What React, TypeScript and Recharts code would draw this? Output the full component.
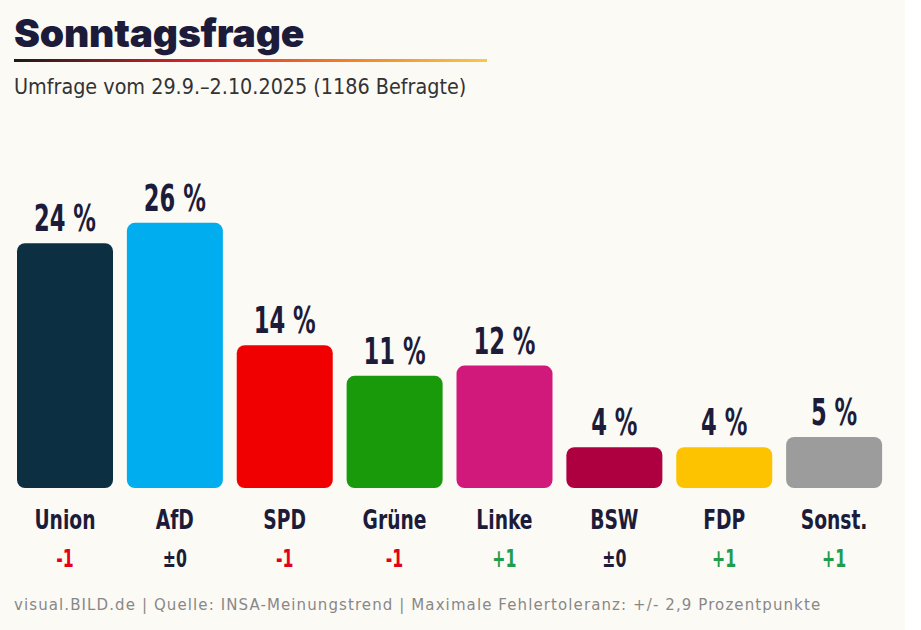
import React from "react";
import { BarChart, Bar, XAxis, YAxis, Cell, LabelList } from "recharts";

const parties = ["Union", "AfD", "SPD", "Grüne", "Linke", "BSW", "FDP", "Sonst."];
const shares = [24, 26, 14, 11, 12, 4, 4, 5];
const changes = ["-1", "±0", "-1", "-1", "+1", "±0", "+1", "+1"];
const partyColors = ["#0c2f41", "#00adef", "#f00000", "#199a0a", "#d0197a", "#ae0041", "#fdc300", "#9c9c9c"];

const data = parties.map((name, i) => ({ name, share: shares[i], change: changes[i] }));

const NARROW = "'DejaVu Sans Condensed', 'DejaVu Sans', sans-serif";
const INK = "#1c1c3a";

const changeColor = (c: string) => (c.startsWith("+") ? "#1e9d4a" : c.startsWith("-") ? "#e2001a" : INK);

// condensed bold text, squeezed horizontally to look like the BILD font
const Squeezed = ({ x, y, sx, size, fill, children }: any) => (
  <text
    transform={`translate(${x},${y}) scale(${sx},1)`}
    textAnchor="middle"
    fontFamily={NARROW}
    fontWeight={700}
    fontSize={size}
    fill={fill}
  >
    {children}
  </text>
);

const PartyTick = (props: any) => {
  const { x, y, payload, index } = props;
  const ch = changes[index];
  return (
    <g>
      <Squeezed x={x} y={y + 33} sx={0.8} size={26} fill={INK}>
        {payload.value}
      </Squeezed>
      <Squeezed x={x} y={y + 71} sx={0.7} size={25} fill={changeColor(ch)}>
        {ch}
      </Squeezed>
    </g>
  );
};

const ValueLabel = (props: any) => {
  const { x, y, width, value } = props;
  return (
    <Squeezed x={x + width / 2} y={y - 12} sx={0.68} size={37} fill={INK}>
      {`${value} %`}
    </Squeezed>
  );
};

export default function App() {
  return (
    <div style={{ position: "absolute", left: 0, top: 0, width: 921, height: 630, background: "#fff" }}>
      <div style={{ position: "relative", width: 905, height: 630, background: "#fcfaf5", overflow: "hidden" }}>
        <div style={{ position: "absolute", left: 14, top: 9, fontFamily: "Inter, Lato, sans-serif", fontWeight: 900, fontSize: 39, color: INK, letterSpacing: -0.2 }}>
          Sonntagsfrage
        </div>
        <div style={{ position: "absolute", left: 14, top: 59, width: 473, height: 3, background: "linear-gradient(90deg, #1a1a1a 0%, #e3262b 40%, #f0802a 70%, #f7c948 100%)" }} />
        <div style={{ position: "absolute", left: 14, top: 74, fontFamily: NARROW, fontSize: 22, color: "#333", transform: "scaleX(0.97)", transformOrigin: "left top", whiteSpace: "nowrap" }}>
          Umfrage vom 29.9.–2.10.2025 (1186 Befragte)
        </div>
        <div style={{ position: "absolute", left: 0, top: 130 }}>
          <BarChart width={905} height={450} data={data} margin={{ top: 52, right: 16, bottom: 0, left: 10 }}>
            <XAxis dataKey="name" axisLine={false} tickLine={false} height={92} tick={<PartyTick />} interval={0} />
            <YAxis hide domain={[0, 30]} />
            <Bar dataKey="share" barSize={96} radius={[8, 8, 8, 8]} isAnimationActive={false}>
              {data.map((d, i) => (
                <Cell key={d.name} fill={partyColors[i]} />
              ))}
              <LabelList dataKey="share" content={<ValueLabel />} />
            </Bar>
          </BarChart>
        </div>
        <div style={{ position: "absolute", left: 14, top: 596, fontFamily: "'DejaVu Sans', sans-serif", fontSize: 15, color: "#888", letterSpacing: 1.1, whiteSpace: "nowrap" }}>
          visual.BILD.de | Quelle: INSA-Meinungstrend | Maximale Fehlertoleranz: +/- 2,9 Prozentpunkte
        </div>
      </div>
    </div>
  );
}
